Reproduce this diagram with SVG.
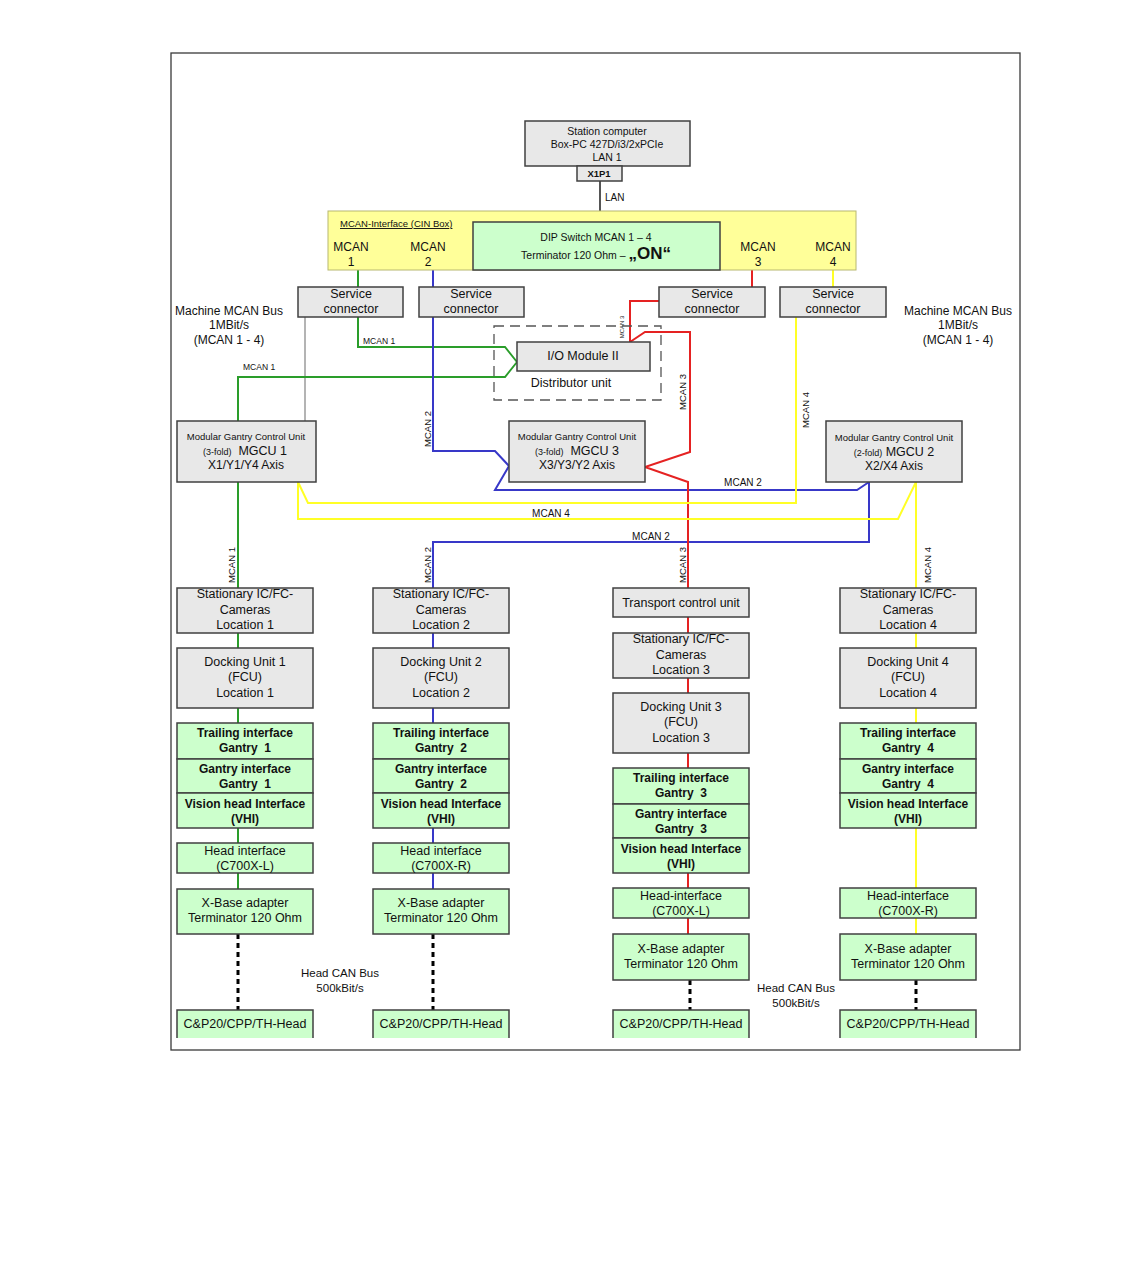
<svg xmlns="http://www.w3.org/2000/svg" width="1134" height="1271" viewBox="0 0 1134 1271">
<style>
text{font-family:"Liberation Sans",Arial,sans-serif;fill:#111;white-space:pre;}
.c{text-anchor:middle;}
.g{fill:#e8e8e8;stroke:#404040;stroke-width:1.5;}
.gr{fill:#ccffcc;stroke:#404040;stroke-width:1.5;}
.t{font-size:12.5px;}
.b{font-size:12px;font-weight:bold;}
.s{font-size:9.5px;}
.lab{font-size:9.5px;}
.w{fill:none;stroke-width:2;stroke-linejoin:miter;}
.gn{stroke:#2a9d2a;}
.bl{stroke:#3838c8;}
.rd{stroke:#e52222;}
.yl{stroke:#ffff26;}
.dot{fill:none;stroke:#000;stroke-width:3;stroke-dasharray:5 4;}
</style>
<rect x="0" y="0" width="1134" height="1271" fill="#fff"/>
<rect id="frame" x="171" y="53" width="849" height="997" fill="none" stroke="#3a3a3a" stroke-width="1.3"/>

<g id="connectors">
<path class="w" d="M600 181V211" stroke="#555" stroke-width="1.5"/>
<path class="w" d="M305 317V421" stroke="#b4b4b4" stroke-width="1"/>
<path class="w gn" d="M358 270V287M358 317V347H505L517 362M238 421V377H505L517 362M238 482V588M238 633V648M238 708V723M238 828V843M238 873V889"/>
<path class="w bl" d="M433 270V287M433 317V451H495L509 466L495 490H857L869 482M869 482V542H433V588M433 633V648M433 708V723M433 828V843M433 873V889"/>
<path class="w rd" d="M752 270V287M659 301H630V342M630 342L645 332H690V452L645 467L688 482V588M688 617V633M688 678V693M688 753V768M688 873V888M688 918V934"/>
<path class="w yl" d="M833 270V287M796 317V503H308L298 482V519H898L916 482V588M916 633V648M916 708V723M916 828V888M916 918V934"/>
<path class="dot" d="M238 934V1010M433 934V1010M690 980V1010M916 980V1010"/>
<text x="605" y="201" font-size="10">LAN</text>
<text x="363" y="344" font-size="8.5">MCAN 1</text>
<text x="243" y="370" font-size="8.5">MCAN 1</text>
<text class="c" transform="translate(624 327) rotate(-90)" font-size="6">MCAN 3</text>
<text class="c lab" transform="translate(686 392) rotate(-90)">MCAN 3</text>
<text class="c lab" transform="translate(431 429) rotate(-90)">MCAN 2</text>
<text class="c lab" transform="translate(809 410) rotate(-90)">MCAN 4</text>
<text class="c" x="743" y="486" font-size="10">MCAN 2</text>
<text class="c" x="551" y="517" font-size="10">MCAN 4</text>
<text class="c" x="651" y="540" font-size="10">MCAN 2</text>
<text class="c lab" transform="translate(235 565) rotate(-90)">MCAN 1</text>
<text class="c lab" transform="translate(431 565) rotate(-90)">MCAN 2</text>
<text class="c lab" transform="translate(686 565) rotate(-90)">MCAN 3</text>
<text class="c lab" transform="translate(931 565) rotate(-90)">MCAN 4</text>
</g>

<g id="station-computer">
<rect class="g" x="525" y="121" width="165" height="45"/>
<text class="c" x="607" y="135" font-size="10.5">Station computer</text>
<text class="c" x="607" y="148" font-size="10.5">Box-PC 427D/i3/2xPCIe</text>
<text class="c" x="607" y="161" font-size="10.5">LAN 1</text>
</g>
<g id="x1p1">
<rect class="g" x="577" y="166" width="45" height="15"/>
<text class="c" x="599" y="177" font-size="9.5" font-weight="bold">X1P1</text>
</g>

<g id="cin-box">
<rect x="328" y="211" width="528" height="59" fill="#ffff99" stroke="#b8b870" stroke-width="1"/>
<text x="340" y="227" font-size="9.5" text-decoration="underline">MCAN-Interface (CIN Box)</text>
<text class="c" x="351" y="251" font-size="12">MCAN</text><text class="c" x="351" y="266" font-size="12">1</text>
<text class="c" x="428" y="251" font-size="12">MCAN</text><text class="c" x="428" y="266" font-size="12">2</text>
<text class="c" x="758" y="251" font-size="12">MCAN</text><text class="c" x="758" y="266" font-size="12">3</text>
<text class="c" x="833" y="251" font-size="12">MCAN</text><text class="c" x="833" y="266" font-size="12">4</text>
</g>
<g id="dip-switch">
<rect x="473" y="222" width="247" height="48" fill="#ccffcc" stroke="#404040" stroke-width="1.5"/>
<text class="c" x="596" y="241" font-size="10.5">DIP Switch MCAN 1 – 4</text>
<text class="c" x="596" y="259" font-size="10.5">Terminator 120 Ohm – <tspan font-size="17" font-weight="bold">„ON“</tspan></text>
</g>

<g id="service-connector-1"><rect class="g" x="298" y="287" width="105" height="30"/><text class="c t" x="351" y="298">Service</text><text class="c t" x="351" y="313">connector</text></g>
<g id="service-connector-2"><rect class="g" x="419" y="287" width="105" height="30"/><text class="c t" x="471" y="298">Service</text><text class="c t" x="471" y="313">connector</text></g>
<g id="service-connector-3"><rect class="g" x="659" y="287" width="106" height="30"/><text class="c t" x="712" y="298">Service</text><text class="c t" x="712" y="313">connector</text></g>
<g id="service-connector-4"><rect class="g" x="780" y="287" width="106" height="30"/><text class="c t" x="833" y="298">Service</text><text class="c t" x="833" y="313">connector</text></g>

<g id="bus-label-left">
<text class="c" x="229" y="315" font-size="12">Machine MCAN Bus</text>
<text class="c" x="229" y="329" font-size="12">1MBit/s</text>
<text class="c" x="229" y="344" font-size="12">(MCAN 1 - 4)</text>
</g>
<g id="bus-label-right">
<text class="c" x="958" y="315" font-size="12">Machine MCAN Bus</text>
<text class="c" x="958" y="329" font-size="12">1MBit/s</text>
<text class="c" x="958" y="344" font-size="12">(MCAN 1 - 4)</text>
</g>

<g id="distributor-unit">
<rect x="494" y="326" width="167" height="74" fill="none" stroke="#555" stroke-width="1.3" stroke-dasharray="10 6"/>
<text class="c" x="571" y="387" font-size="12.5">Distributor unit</text>
</g>
<g id="io-module">
<rect class="g" x="517" y="342" width="133" height="29"/>
<text class="c" x="583" y="360" font-size="12.5">I/O Module II</text>
</g>

<g id="mgcu-1">
<rect class="g" x="177" y="421" width="139" height="61"/>
<text class="c" x="246" y="440" font-size="9.5">Modular Gantry Control Unit</text>
<text class="c" x="245" y="455"><tspan font-size="9">(3-fold)</tspan><tspan font-size="12.5">  MGCU 1</tspan></text>
<text class="c" x="246" y="469" font-size="12">X1/Y1/Y4 Axis</text>
</g>
<g id="mgcu-3">
<rect class="g" x="509" y="421" width="136" height="61"/>
<text class="c" x="577" y="440" font-size="9.5">Modular Gantry Control Unit</text>
<text class="c" x="577" y="455"><tspan font-size="9">(3-fold)</tspan><tspan font-size="12.5">  MGCU 3</tspan></text>
<text class="c" x="577" y="469" font-size="12">X3/Y3/Y2 Axis</text>
</g>
<g id="mgcu-2">
<rect class="g" x="826" y="421" width="136" height="61"/>
<text class="c" x="894" y="441" font-size="9.5">Modular Gantry Control Unit</text>
<text class="c" x="894" y="456"><tspan font-size="9">(2-fold)</tspan><tspan font-size="12.5"> MGCU 2</tspan></text>
<text class="c" x="894" y="470" font-size="12">X2/X4 Axis</text>
</g>

<!-- Column 1 -->
<g id="cameras-1"><rect class="g" x="177" y="588" width="136" height="45"/><text class="c t" x="245" y="598">Stationary IC/FC-</text><text class="c t" x="245" y="614">Cameras</text><text class="c t" x="245" y="629">Location 1</text></g>
<g id="docking-1"><rect class="g" x="177" y="648" width="136" height="60"/><text class="c t" x="245" y="666">Docking Unit 1</text><text class="c t" x="245" y="681">(FCU)</text><text class="c t" x="245" y="697">Location 1</text></g>
<g id="interfaces-1">
<rect class="gr" x="177" y="723" width="136" height="36"/><rect class="gr" x="177" y="759" width="136" height="34"/><rect class="gr" x="177" y="793" width="136" height="35"/>
<text class="c b" x="245" y="737">Trailing interface</text><text class="c b" x="245" y="752">Gantry  1</text>
<text class="c b" x="245" y="773">Gantry interface</text><text class="c b" x="245" y="788">Gantry  1</text>
<text class="c b" x="245" y="808">Vision head Interface</text><text class="c b" x="245" y="823">(VHI)</text>
</g>
<g id="head-interface-1"><rect class="gr" x="177" y="843" width="136" height="30"/><text class="c t" x="245" y="855">Head interface</text><text class="c t" x="245" y="870">(C700X-L)</text></g>
<g id="xbase-1"><rect class="gr" x="177" y="889" width="136" height="45"/><text class="c t" x="245" y="907">X-Base adapter</text><text class="c t" x="245" y="922">Terminator 120 Ohm</text></g>
<g id="head-1"><rect x="177" y="1010" width="136" height="28" fill="#ccffcc"/><path d="M177 1038V1010H313V1038" fill="none" stroke="#404040" stroke-width="1.5"/><text class="c t" x="245" y="1028">C&amp;P20/CPP/TH-Head</text></g>

<!-- Column 2 -->
<g id="cameras-2"><rect class="g" x="373" y="588" width="136" height="45"/><text class="c t" x="441" y="598">Stationary IC/FC-</text><text class="c t" x="441" y="614">Cameras</text><text class="c t" x="441" y="629">Location 2</text></g>
<g id="docking-2"><rect class="g" x="373" y="648" width="136" height="60"/><text class="c t" x="441" y="666">Docking Unit 2</text><text class="c t" x="441" y="681">(FCU)</text><text class="c t" x="441" y="697">Location 2</text></g>
<g id="interfaces-2">
<rect class="gr" x="373" y="723" width="136" height="36"/><rect class="gr" x="373" y="759" width="136" height="34"/><rect class="gr" x="373" y="793" width="136" height="35"/>
<text class="c b" x="441" y="737">Trailing interface</text><text class="c b" x="441" y="752">Gantry  2</text>
<text class="c b" x="441" y="773">Gantry interface</text><text class="c b" x="441" y="788">Gantry  2</text>
<text class="c b" x="441" y="808">Vision head Interface</text><text class="c b" x="441" y="823">(VHI)</text>
</g>
<g id="head-interface-2"><rect class="gr" x="373" y="843" width="136" height="30"/><text class="c t" x="441" y="855">Head interface</text><text class="c t" x="441" y="870">(C700X-R)</text></g>
<g id="xbase-2"><rect class="gr" x="373" y="889" width="136" height="45"/><text class="c t" x="441" y="907">X-Base adapter</text><text class="c t" x="441" y="922">Terminator 120 Ohm</text></g>
<g id="head-2"><rect x="373" y="1010" width="136" height="28" fill="#ccffcc"/><path d="M373 1038V1010H509V1038" fill="none" stroke="#404040" stroke-width="1.5"/><text class="c t" x="441" y="1028">C&amp;P20/CPP/TH-Head</text></g>

<!-- Column 3 -->
<g id="transport-control"><rect class="g" x="613" y="588" width="136" height="29"/><text class="c t" x="681" y="607">Transport control unit</text></g>
<g id="cameras-3"><rect class="g" x="613" y="633" width="136" height="45"/><text class="c t" x="681" y="643">Stationary IC/FC-</text><text class="c t" x="681" y="659">Cameras</text><text class="c t" x="681" y="674">Location 3</text></g>
<g id="docking-3"><rect class="g" x="613" y="693" width="136" height="60"/><text class="c t" x="681" y="711">Docking Unit 3</text><text class="c t" x="681" y="726">(FCU)</text><text class="c t" x="681" y="742">Location 3</text></g>
<g id="interfaces-3">
<rect class="gr" x="613" y="768" width="136" height="36"/><rect class="gr" x="613" y="804" width="136" height="34"/><rect class="gr" x="613" y="838" width="136" height="35"/>
<text class="c b" x="681" y="782">Trailing interface</text><text class="c b" x="681" y="797">Gantry  3</text>
<text class="c b" x="681" y="818">Gantry interface</text><text class="c b" x="681" y="833">Gantry  3</text>
<text class="c b" x="681" y="853">Vision head Interface</text><text class="c b" x="681" y="868">(VHI)</text>
</g>
<g id="head-interface-3"><rect class="gr" x="613" y="888" width="136" height="30"/><text class="c t" x="681" y="900">Head-interface</text><text class="c t" x="681" y="915">(C700X-L)</text></g>
<g id="xbase-3"><rect class="gr" x="613" y="934" width="136" height="46"/><text class="c t" x="681" y="953">X-Base adapter</text><text class="c t" x="681" y="968">Terminator 120 Ohm</text></g>
<g id="head-3"><rect x="613" y="1010" width="136" height="28" fill="#ccffcc"/><path d="M613 1038V1010H749V1038" fill="none" stroke="#404040" stroke-width="1.5"/><text class="c t" x="681" y="1028">C&amp;P20/CPP/TH-Head</text></g>

<!-- Column 4 -->
<g id="cameras-4"><rect class="g" x="840" y="588" width="136" height="45"/><text class="c t" x="908" y="598">Stationary IC/FC-</text><text class="c t" x="908" y="614">Cameras</text><text class="c t" x="908" y="629">Location 4</text></g>
<g id="docking-4"><rect class="g" x="840" y="648" width="136" height="60"/><text class="c t" x="908" y="666">Docking Unit 4</text><text class="c t" x="908" y="681">(FCU)</text><text class="c t" x="908" y="697">Location 4</text></g>
<g id="interfaces-4">
<rect class="gr" x="840" y="723" width="136" height="36"/><rect class="gr" x="840" y="759" width="136" height="34"/><rect class="gr" x="840" y="793" width="136" height="35"/>
<text class="c b" x="908" y="737">Trailing interface</text><text class="c b" x="908" y="752">Gantry  4</text>
<text class="c b" x="908" y="773">Gantry interface</text><text class="c b" x="908" y="788">Gantry  4</text>
<text class="c b" x="908" y="808">Vision head Interface</text><text class="c b" x="908" y="823">(VHI)</text>
</g>
<g id="head-interface-4"><rect class="gr" x="840" y="888" width="136" height="30"/><text class="c t" x="908" y="900">Head-interface</text><text class="c t" x="908" y="915">(C700X-R)</text></g>
<g id="xbase-4"><rect class="gr" x="840" y="934" width="136" height="46"/><text class="c t" x="908" y="953">X-Base adapter</text><text class="c t" x="908" y="968">Terminator 120 Ohm</text></g>
<g id="head-4"><rect x="840" y="1010" width="136" height="28" fill="#ccffcc"/><path d="M840 1038V1010H976V1038" fill="none" stroke="#404040" stroke-width="1.5"/><text class="c t" x="908" y="1028">C&amp;P20/CPP/TH-Head</text></g>

<g id="head-can-left"><text class="c" x="340" y="977" font-size="11.5">Head CAN Bus</text><text class="c" x="340" y="992" font-size="11.5">500kBit/s</text></g>
<g id="head-can-right"><text class="c" x="796" y="992" font-size="11.5">Head CAN Bus</text><text class="c" x="796" y="1007" font-size="11.5">500kBit/s</text></g>
</svg>
